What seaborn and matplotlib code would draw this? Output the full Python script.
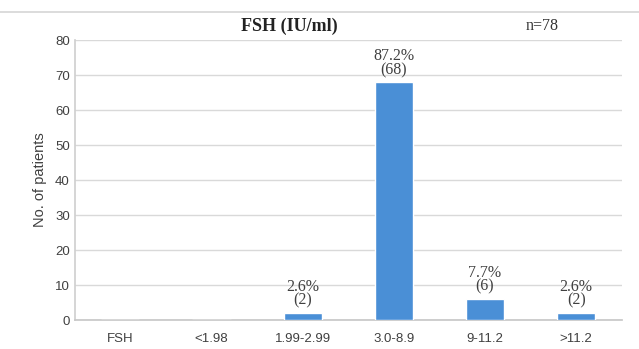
import matplotlib
matplotlib.use("Agg")
import matplotlib.pyplot as plt
from matplotlib.lines import Line2D
import seaborn as sns
import pandas as pd

# FSH distribution among patients
categories = ["FSH", "<1.98", "1.99-2.99", "3.0-8.9", "9-11.2", ">11.2"]
counts = [0, 0, 2, 68, 6, 2]
percents = [None, None, "2.6%", "87.2%", "7.7%", "2.6%"]
y_ticks = [0, 10, 20, 30, 40, 50, 60, 70, 80]

df = pd.DataFrame({"range": categories, "patients": counts})

sns.set_theme(style="white")
plt.rcParams["font.family"] = ["Liberation Sans", "DejaVu Sans"]

fig = plt.figure(figsize=(6.39, 3.49), dpi=100)
ax = fig.add_axes([0.117, 0.083, 0.856, 0.802])

sns.barplot(data=df, x="range", y="patients", order=categories,
            color="#4A8FD6", width=0.42, saturation=1, ax=ax, zorder=3)

ax.set_ylim(0, 80)
ax.set_yticks(y_ticks)
ax.set_xlim(-0.5, len(categories) - 0.5)
ax.yaxis.grid(True, color="#D9D9D9", linewidth=1, zorder=0)
ax.xaxis.grid(False)

for side in ["top", "right"]:
    ax.spines[side].set_visible(False)
ax.spines["left"].set_color("#D0D0D0")
ax.spines["bottom"].set_color("#C8C8C8")
ax.tick_params(axis="both", labelsize=9.5, colors="#404040", length=0)
ax.tick_params(axis="x", pad=9)

ax.set_xlabel("")
ax.set_ylabel("No. of patients", fontsize=10.5, color="#404040", labelpad=6)

# value labels above bars
for i, (v, p) in enumerate(zip(counts, percents)):
    if p is None:
        continue
    ax.annotate(f"{p}\n({v})", xy=(i, v), xytext=(0, 3), textcoords="offset points",
                ha="center", va="bottom", fontsize=11.5, color="#404040",
                family="Liberation Serif", linespacing=0.8)

fig.text(0.452, 0.925, "FSH (IU/ml)", ha="center", va="center", fontsize=13,
         fontweight="bold", family="Liberation Serif", color="#222222")
fig.text(0.848, 0.925, "n=78", ha="center", va="center", fontsize=11.5,
         family="Liberation Serif", color="#333333")

# chart frame line across the top
fig.add_artist(Line2D([0.0, 1.0], [0.966, 0.966], transform=fig.transFigure,
                      color="#D5D5D5", linewidth=1.2))

fig.savefig("out.png", dpi=100, facecolor="white")
